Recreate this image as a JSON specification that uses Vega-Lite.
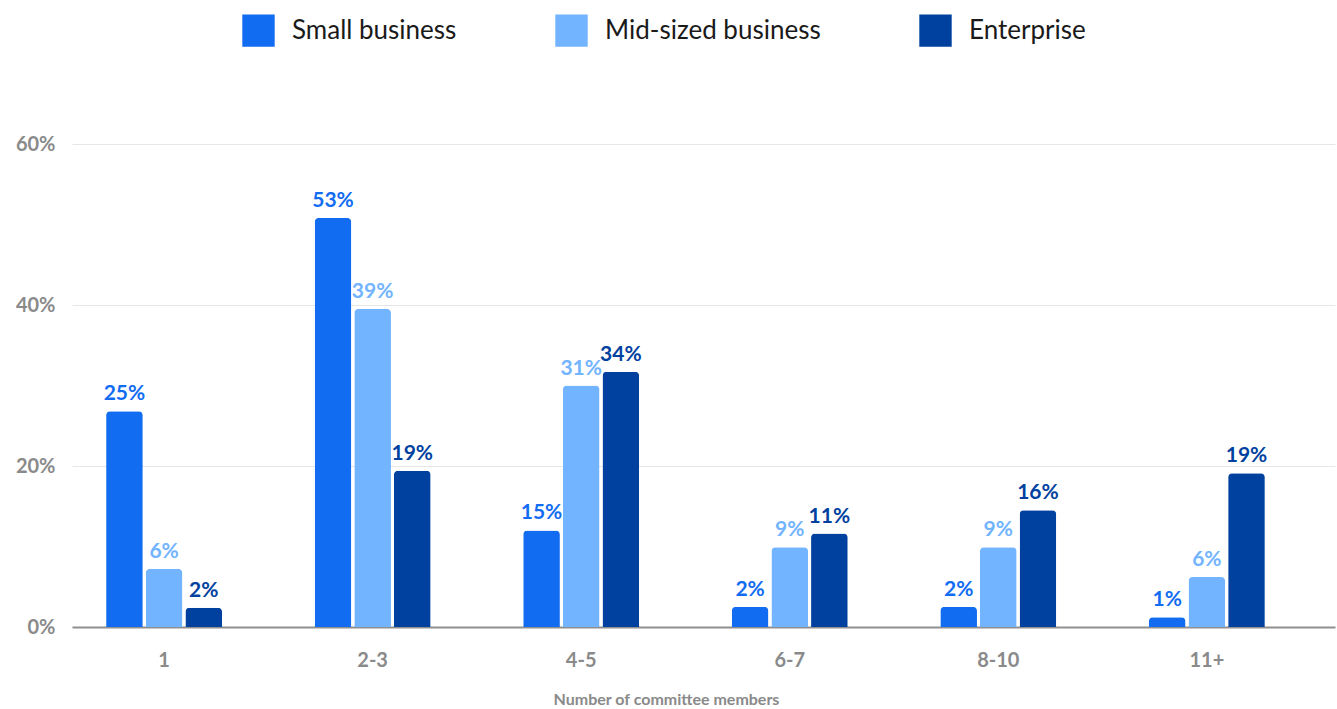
{
  "$schema": "https://vega.github.io/schema/vega-lite/v6.json",
  "autosize": {"type": "none"},
  "padding": {"left": 72, "top": 144, "right": 2, "bottom": 82},
  "width": 1263,
  "height": 483,
  "background": "white",
  "config": {
    "font": "Lato",
    "view": {"stroke": null}
  },
  "data": {
    "values": [
      {"group": "1", "series": "Small business", "value": 26.8, "label": "25%"},
      {"group": "1", "series": "Mid-sized business", "value": 7.2, "label": "6%"},
      {"group": "1", "series": "Enterprise", "value": 2.4, "label": "2%"},
      {"group": "2-3", "series": "Small business", "value": 50.8, "label": "53%"},
      {"group": "2-3", "series": "Mid-sized business", "value": 39.5, "label": "39%"},
      {"group": "2-3", "series": "Enterprise", "value": 19.4, "label": "19%"},
      {"group": "4-5", "series": "Small business", "value": 12.0, "label": "15%"},
      {"group": "4-5", "series": "Mid-sized business", "value": 30.0, "label": "31%"},
      {"group": "4-5", "series": "Enterprise", "value": 31.7, "label": "34%"},
      {"group": "6-7", "series": "Small business", "value": 2.5, "label": "2%"},
      {"group": "6-7", "series": "Mid-sized business", "value": 9.9, "label": "9%"},
      {"group": "6-7", "series": "Enterprise", "value": 11.6, "label": "11%"},
      {"group": "8-10", "series": "Small business", "value": 2.5, "label": "2%"},
      {"group": "8-10", "series": "Mid-sized business", "value": 9.9, "label": "9%"},
      {"group": "8-10", "series": "Enterprise", "value": 14.5, "label": "16%"},
      {"group": "11+", "series": "Small business", "value": 1.2, "label": "1%"},
      {"group": "11+", "series": "Mid-sized business", "value": 6.2, "label": "6%"},
      {"group": "11+", "series": "Enterprise", "value": 19.1, "label": "19%"}
    ]
  },
  "encoding": {
    "x": {
      "field": "group",
      "type": "nominal",
      "sort": ["1", "2-3", "4-5", "6-7", "8-10", "11+"],
      "scale": {"paddingInner": 0.444, "paddingOuter": 0.25, "align": 0.327},
      "axis": {
        "title": "Number of committee members",
        "titleFontSize": 16,
        "titleFontWeight": "bold",
        "titleColor": "#8a8a8a",
        "titleX": 594,
        "titlePadding": 21,
        "labelAngle": 0,
        "labelFontSize": 20,
        "labelFontWeight": "bold",
        "labelColor": "#8a8a8a",
        "labelPadding": 23,
        "ticks": false,
        "domain": true,
        "domainColor": "#8f8f8f",
        "domainWidth": 2,
        "grid": false
      }
    },
    "xOffset": {
      "field": "series",
      "type": "nominal",
      "sort": ["Small business", "Mid-sized business", "Enterprise"],
      "scale": {"paddingInner": 0.075, "paddingOuter": 0}
    },
    "y": {
      "field": "value",
      "type": "quantitative",
      "scale": {"domain": [0, 60], "nice": false},
      "axis": {
        "title": null,
        "values": [0, 20, 40, 60],
        "labelExpr": "datum.value + '%'",
        "labelFontSize": 20,
        "labelFontWeight": "bold",
        "labelColor": "#8a8a8a",
        "labelPadding": 17,
        "ticks": false,
        "domain": false,
        "gridColor": "#e6e6e6",
        "gridWidth": 1
      }
    },
    "color": {
      "field": "series",
      "type": "nominal",
      "scale": {
        "domain": ["Small business", "Mid-sized business", "Enterprise"],
        "range": ["#126cf2", "#72b4ff", "#00419f"]
      },
      "legend": {
        "title": null,
        "orient": "none",
        "direction": "horizontal",
        "legendX": 170,
        "legendY": -130,
        "symbolType": "square",
        "symbolSize": 1050,
        "symbolStrokeWidth": 0,
        "labelFontSize": 26,
        "labelLimit": 0,
        "labelColor": "#1a1a1a",
        "labelOffset": 17,
        "columnPadding": 98,
        "symbolOpacity": 1
      }
    }
  },
  "layer": [
    {
      "mark": {"type": "bar", "cornerRadiusTopLeft": 4, "cornerRadiusTopRight": 4}
    },
    {
      "mark": {"type": "text", "baseline": "alphabetic", "dy": -11, "fontSize": 21, "fontWeight": "bold"},
      "encoding": {"text": {"field": "label"}}
    }
  ]
}
